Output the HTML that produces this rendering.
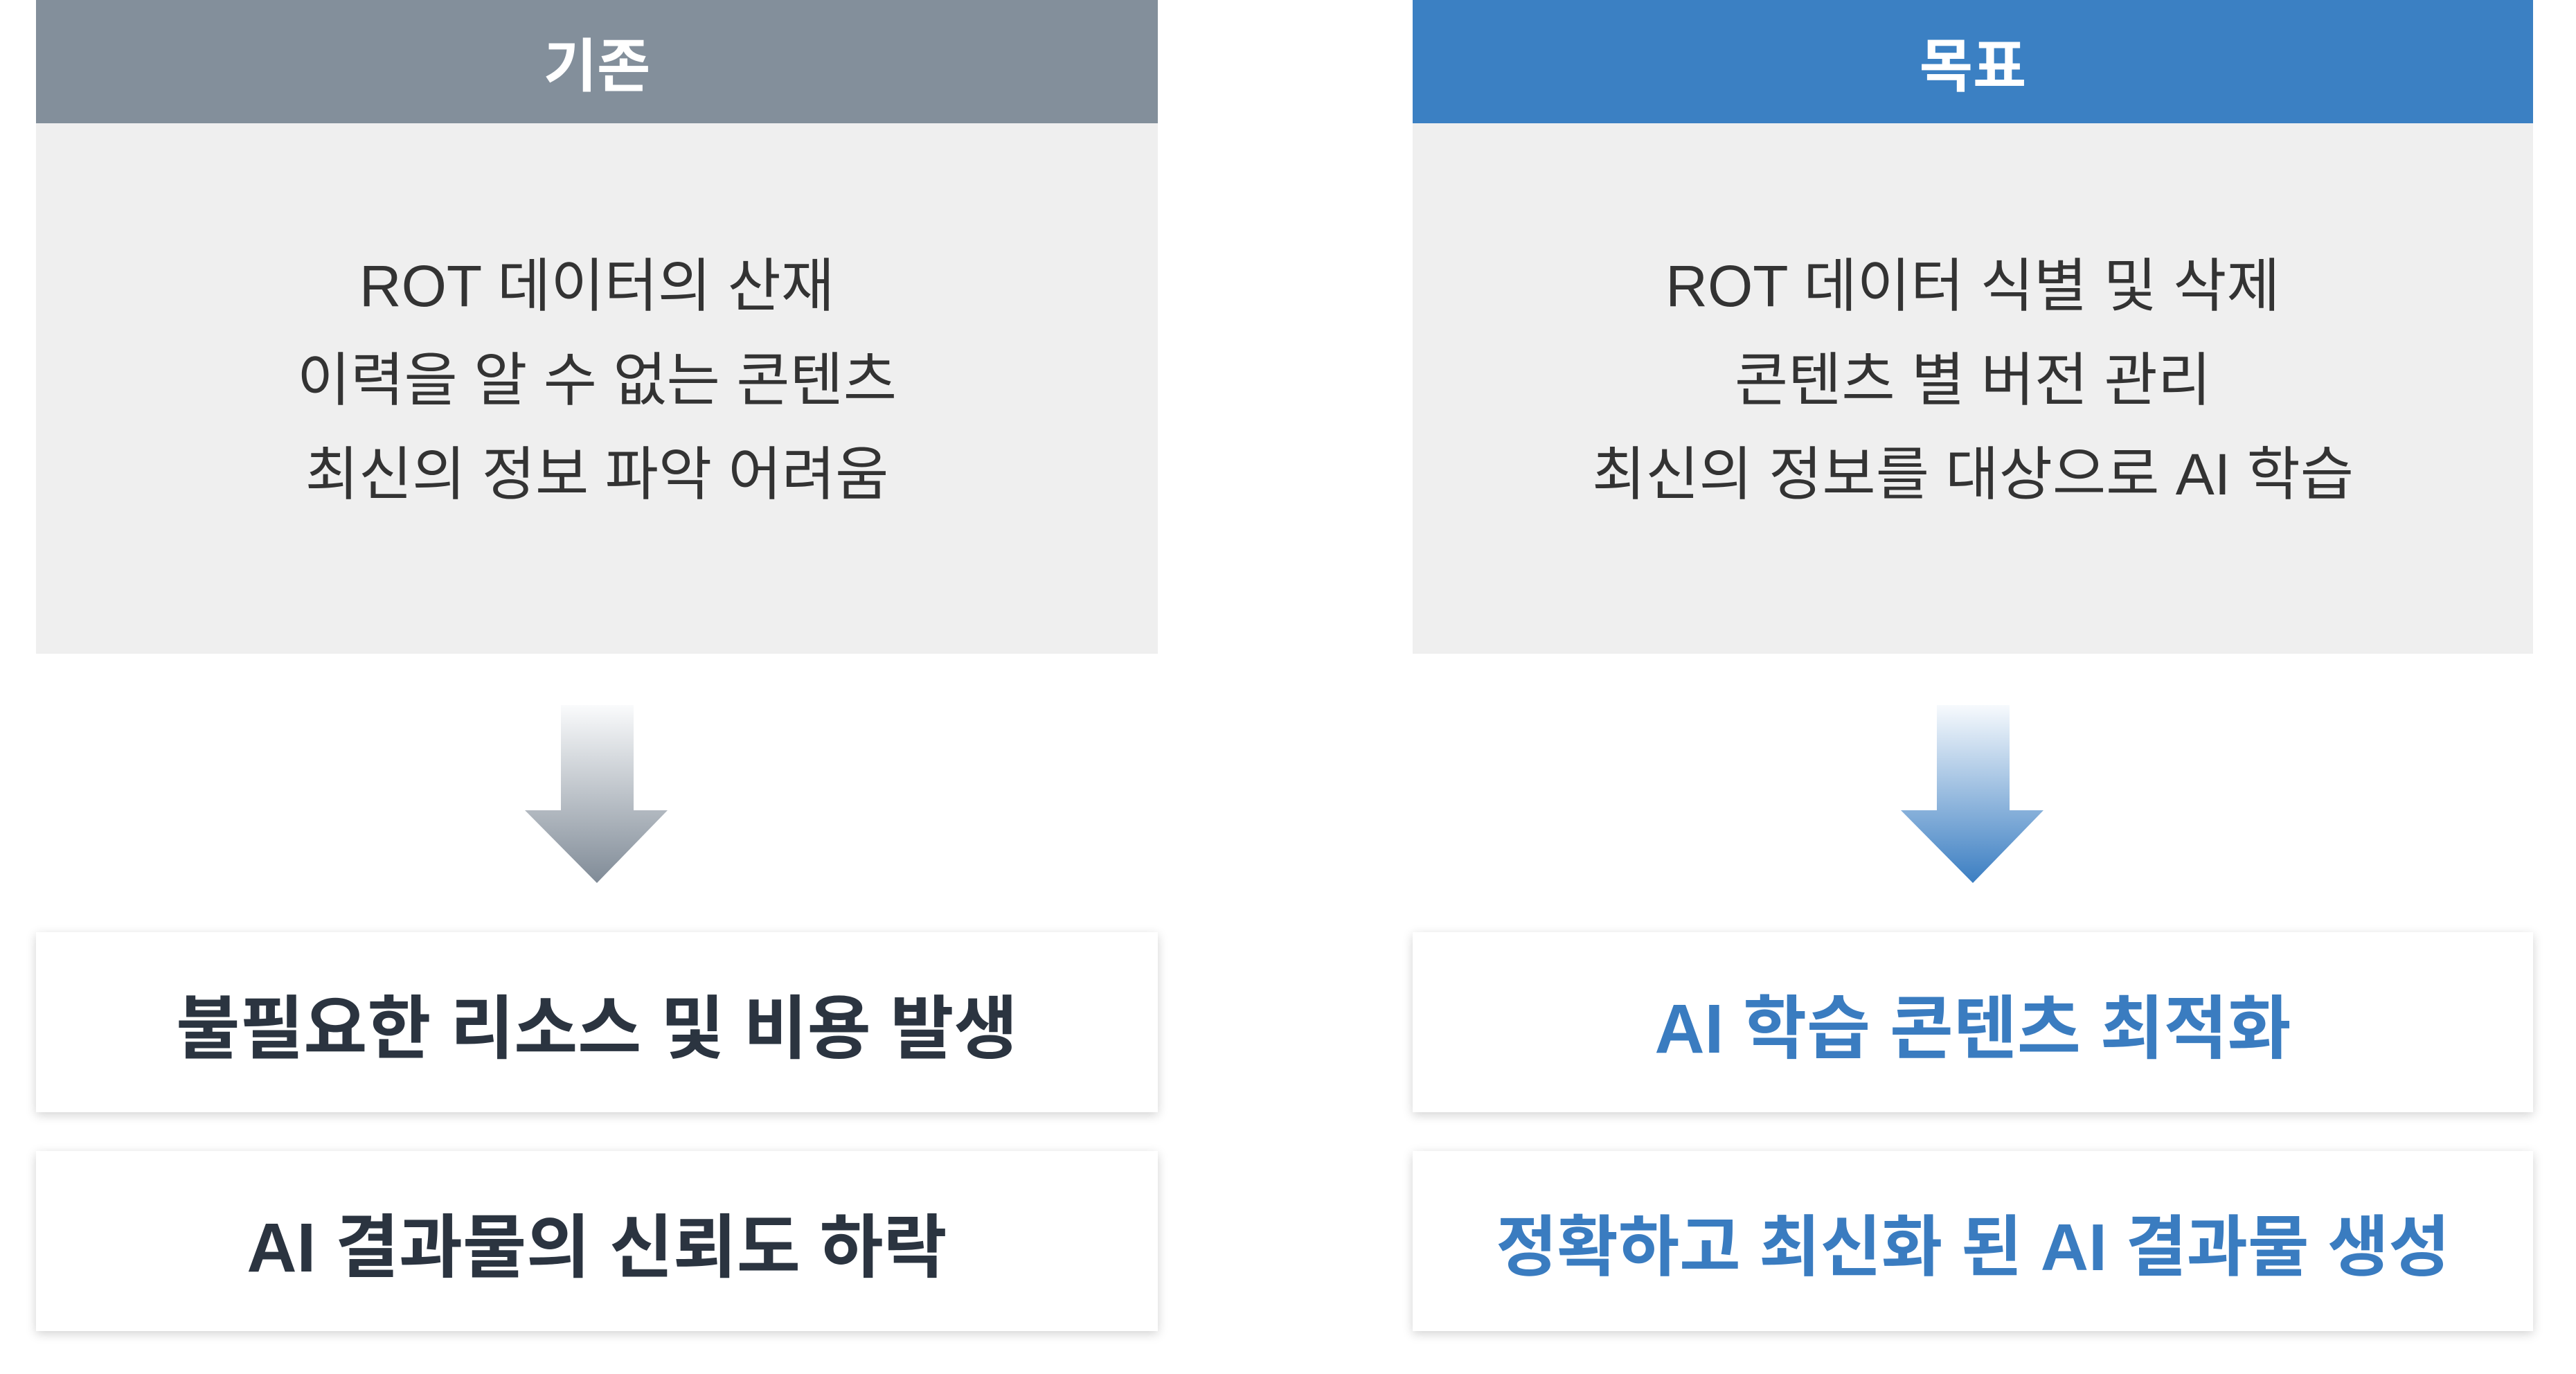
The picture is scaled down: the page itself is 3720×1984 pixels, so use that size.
<!DOCTYPE html>
<html><head><meta charset="utf-8"><style>
body{margin:0;width:3720px;height:1984px;background:#fff;position:relative;overflow:hidden;font-family:"Liberation Sans","Noto Sans CJK KR",sans-serif}
.hd{position:absolute;top:0;height:178px;color:#fff;font-weight:bold;font-size:84px;display:flex;align-items:center;justify-content:center}
.bd{position:absolute;top:178px;height:766px;background:#efefef;color:#333;font-size:84px;line-height:136px;text-align:center;padding-top:167px;box-sizing:border-box}
.bx{position:absolute;height:260px;background:#fff;box-shadow:0 4px 14px rgba(0,0,0,0.18);display:flex;align-items:center;justify-content:center;font-weight:bold;font-size:100px}
.l{left:52px;width:1620px}.r{left:2040px;width:1618px}
</style></head><body>
<div class="hd l" style="background:#838f9b">기존</div>
<div class="hd r" style="background:#3b80c3">목표</div>
<div class="bd l">ROT 데이터의 산재<br>이력을 알 수 없는 콘텐츠<br>최신의 정보 파악 어려움</div>
<div class="bd r">ROT 데이터 식별 및 삭제<br>콘텐츠 별 버전 관리<br>최신의 정보를 대상으로 AI 학습</div>
<svg style="position:absolute;left:0;top:0" width="3720" height="1984">
<defs>
<linearGradient id="g1" x1="0" y1="1018" x2="0" y2="1275" gradientUnits="userSpaceOnUse"><stop offset="0" stop-color="#fafbfc"/><stop offset="1" stop-color="#808b97"/></linearGradient>
<linearGradient id="g2" x1="0" y1="1018" x2="0" y2="1275" gradientUnits="userSpaceOnUse"><stop offset="0" stop-color="#f7fafd"/><stop offset="1" stop-color="#3b7ec2"/></linearGradient>
</defs>
<polygon points="810,1018 915,1018 915,1170 964,1170 862,1275 758,1170 810,1170" fill="url(#g1)"/>
<polygon points="2797,1018 2902,1018 2902,1170 2951,1170 2849,1275 2745,1170 2797,1170" fill="url(#g2)"/>
</svg>
<div class="bx l" style="top:1346px;color:#2b3440">불필요한 리소스 및 비용 발생</div>
<div class="bx l" style="top:1662px;color:#2b3440">AI 결과물의 신뢰도 하락</div>
<div class="bx r" style="top:1346px;color:#3a7cc0">AI 학습 콘텐츠 최적화</div>
<div class="bx r" style="top:1662px;color:#3a7cc0;font-size:96px">정확하고 최신화 된 AI 결과물 생성</div>
</body></html>
